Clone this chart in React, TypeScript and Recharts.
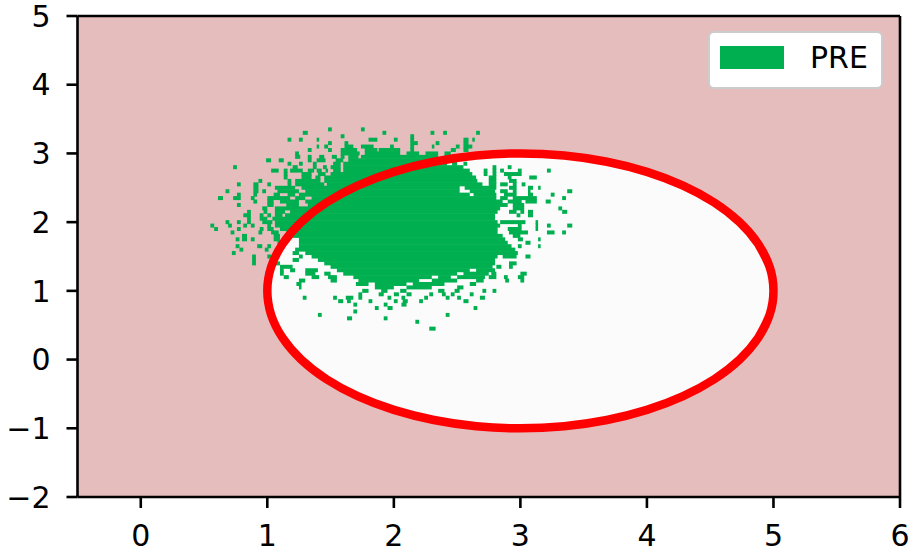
import { CartesianGrid, Legend, ReferenceLine, Scatter, ScatterChart, XAxis, YAxis } from "recharts";

const xTicks = [0, 1, 2, 3, 4, 5, 6];
const yTicks = [-2, -1, 0, 1, 2, 3, 4, 5];

// closed outline with a small overlap at x=5 so the join stays smooth
const ringX = [4.879, 4.97, 5, 4.97, 4.879, 4.732, 4.532, 4.286, 4, 3.684, 3.347, 3, 2.653, 2.316, 2, 1.714, 1.468, 1.268, 1.121, 1.03, 1, 1.03, 1.121, 1.268, 1.468, 1.714, 2, 2.316, 2.653, 3, 3.347, 3.684, 4, 4.286, 4.532, 4.732, 4.879, 4.97, 5, 4.97, 4.879];
const ringY = [0.316, 0.653, 1, 1.347, 1.684, 2, 2.286, 2.532, 2.732, 2.879, 2.97, 3, 2.97, 2.879, 2.732, 2.532, 2.286, 2, 1.684, 1.347, 1, 0.653, 0.316, 0, -0.286, -0.532, -0.732, -0.879, -0.97, -1, -0.97, -0.879, -0.732, -0.532, -0.286, 0, 0.316, 0.653, 1, 1.347, 1.684];

// PRE samples by row: y, then x start / x end pairs
const preRows: [number, number[]][] = [
  [3.35, [1.48, 1.51, 1.74, 1.77]],
  [3.3, [1.28, 1.32, 1.91, 1.94, 2.29, 2.32, 2.39, 2.42, 2.65, 2.68]],
  [3.25, [1.58, 1.61, 2.13, 2.16]],
  [3.2, [1.16, 1.19, 1.25, 1.28, 1.39, 1.41, 1.8, 1.87, 2.0, 2.03, 2.13, 2.16, 2.55, 2.59, 2.62, 2.64]],
  [3.15, [1.48, 1.51, 1.61, 1.64, 2.13, 2.19, 2.33, 2.36, 2.55, 2.59]],
  [3.1, [1.39, 1.41, 1.45, 1.48, 1.61, 1.68, 1.74, 1.84, 1.97, 2.0, 2.13, 2.16, 2.3, 2.32, 2.49, 2.52, 2.55, 2.62]],
  [3.05, [1.32, 1.35, 1.48, 1.51, 1.58, 1.71, 1.77, 1.87, 1.88, 2.05, 2.13, 2.16, 2.45, 2.49, 2.55, 2.59]],
  [3.0, [1.22, 1.25, 1.58, 1.73, 1.77, 2.05, 2.1, 2.2, 2.25, 2.35, 2.4, 2.45]],
  [2.95, [1.22, 1.26, 1.32, 1.35, 1.41, 1.45, 1.51, 1.55, 1.58, 1.61, 1.64, 1.72, 1.74, 2.35, 2.4, 2.45]],
  [2.9, [0.99, 1.03, 1.09, 1.13, 1.32, 1.35, 1.39, 1.46, 1.54, 1.6, 1.64, 2.38, 2.42, 2.46]],
  [2.85, [1.16, 1.19, 1.25, 1.28, 1.36, 1.39, 1.52, 1.58, 1.6, 2.42, 2.46, 2.5, 2.55, 2.58]],
  [2.8, [0.73, 0.76, 1.2, 1.24, 1.36, 1.39, 1.44, 1.47, 1.5, 1.58, 1.6, 2.55, 2.78, 2.81, 2.9, 2.93]],
  [2.75, [1.03, 1.09, 1.13, 1.16, 1.18, 1.28, 1.32, 1.37, 1.39, 1.43, 1.46, 1.48, 1.52, 1.58, 1.6, 2.6, 2.71, 2.74, 2.78, 2.81, 2.84, 2.87, 2.98, 3.01, 3.21, 3.24]],
  [2.7, [1.13, 1.16, 1.27, 1.35, 1.4, 1.46, 1.5, 2.62, 2.71, 2.74, 2.78, 2.81, 2.87, 3.01]],
  [2.65, [1.13, 1.16, 1.27, 1.35, 1.38, 1.42, 1.45, 2.65, 2.75, 2.81, 2.9, 2.93, 3.07, 3.13]],
  [2.6, [0.93, 0.96, 1.16, 1.19, 1.22, 1.42, 1.45, 2.66, 2.75, 2.81, 2.91, 2.97]],
  [2.55, [0.76, 0.79, 0.89, 0.93, 1.0, 1.03, 1.16, 1.19, 1.22, 1.45, 1.47, 2.7, 2.75, 2.81, 2.84, 2.9, 2.94, 2.97, 3.01, 3.04]],
  [2.5, [0.89, 0.93, 1.06, 1.22, 1.27, 2.52, 2.56, 2.81, 2.91, 2.97, 3.06, 3.1, 3.14, 3.16]],
  [2.45, [0.67, 0.7, 0.89, 0.93, 0.96, 0.99, 1.08, 1.25, 1.3, 2.52, 2.6, 2.8, 2.84, 2.9, 2.94, 2.97, 3.06, 3.08, 3.37, 3.41]],
  [2.4, [0.76, 0.79, 0.89, 0.92, 1.05, 1.1, 1.16, 1.22, 1.25, 2.6, 2.63, 2.81, 2.87, 2.97, 3.06, 3.1, 3.24, 3.27]],
  [2.35, [0.61, 0.65, 0.73, 0.79, 0.87, 0.9, 1.0, 1.18, 1.22, 1.3, 1.35, 2.81, 2.84, 2.9, 2.94, 3.13, 3.33, 3.36]],
  [2.3, [0.89, 0.92, 1.0, 1.05, 1.1, 1.25, 1.3, 2.86, 2.9, 3.01, 3.04, 3.13, 3.2, 3.24]],
  [2.25, [0.76, 0.79, 1.0, 1.05, 1.15, 1.25, 1.32, 2.9, 2.94, 3.03]],
  [2.2, [0.96, 1.0, 1.06, 2.84, 2.94, 3.03, 3.3, 3.33]],
  [2.15, [0.84, 0.87, 0.97, 1.0, 1.06, 1.14, 1.18, 2.82, 2.91, 2.97, 3.0, 3.03, 3.06, 3.1, 3.33, 3.37]],
  [2.1, [0.81, 0.87, 0.94, 0.97, 1.0, 1.03, 1.06, 1.12, 1.14, 2.8, 2.97, 3.0, 3.06, 3.1]],
  [2.05, [0.84, 0.87, 0.94, 1.0, 1.04, 2.8]],
  [2.0, [0.67, 0.7, 0.76, 0.79, 0.84, 0.87, 0.96, 1.04, 1.06, 2.82, 2.84, 3.04, 3.12, 3.14]],
  [1.95, [0.55, 0.58, 0.69, 0.72, 0.81, 0.84, 0.87, 0.9, 1.0, 1.03, 1.06, 2.84, 2.98, 3.01, 3.12, 3.14, 3.21, 3.24, 3.37, 3.41]],
  [1.9, [0.58, 0.61, 0.76, 0.79, 0.94, 0.97, 1.0, 1.05, 1.1, 2.82, 2.9, 3.01, 3.12, 3.14]],
  [1.85, [0.71, 0.74, 0.93, 0.96, 1.03, 1.09, 1.15, 2.82, 2.91, 3.06, 3.21, 3.27, 3.33, 3.36]],
  [1.8, [0.8, 0.84, 1.05, 1.1, 1.2, 2.86, 2.94, 3.0]],
  [1.75, [0.75, 0.78, 0.8, 0.84, 0.87, 0.9, 1.05, 1.1, 1.25, 2.88, 2.98, 3.02, 3.14, 3.16]],
  [1.7, [1.08, 1.15, 1.25, 2.9, 3.04, 3.08]],
  [1.65, [0.75, 0.78, 0.92, 0.96, 1.0, 1.03, 1.25, 2.93, 2.98, 3.01, 3.14, 3.16]],
  [1.6, [0.78, 0.81, 0.98, 1.01, 1.22, 2.96]],
  [1.55, [0.72, 0.75, 1.2, 1.25, 1.3, 2.98]],
  [1.5, [0.88, 0.91, 1.0, 1.03, 1.25, 1.28, 1.35, 2.82, 2.86, 2.97, 3.04, 3.08]],
  [1.45, [0.88, 0.91, 1.2, 1.25, 1.4, 2.8]],
  [1.4, [0.88, 0.91, 1.05, 1.1, 1.45, 2.8, 2.91, 2.97]],
  [1.35, [1.1, 1.2, 1.5, 2.78, 2.81, 2.85, 2.91, 2.94]],
  [1.3, [1.1, 1.13, 1.18, 1.22, 1.3, 1.4, 1.55, 2.6, 2.65, 2.8]],
  [1.25, [1.1, 1.13, 1.3, 1.38, 1.45, 1.5, 1.6, 2.5, 2.55, 2.75, 2.77, 2.81, 3.0, 3.05]],
  [1.2, [1.13, 1.17, 1.35, 1.41, 1.48, 1.55, 1.68, 2.3, 2.35, 2.45, 2.5, 2.72, 2.75, 2.81, 2.87, 2.9, 2.98, 3.03]],
  [1.15, [1.25, 1.3, 1.5, 1.55, 1.72, 2.2, 2.3, 2.5, 2.65, 2.71, 2.88, 2.91, 3.0, 3.03]],
  [1.1, [1.23, 1.27, 1.7, 1.8, 1.85, 2.1, 2.15, 2.4, 2.6, 2.65]],
  [1.05, [1.25, 1.27, 1.85, 2.0, 2.1, 2.3, 2.5, 2.55]],
  [1.0, [1.75, 1.8, 1.9, 1.95, 2.05, 2.1, 2.35, 2.4, 2.48, 2.52, 2.7, 2.73, 2.78, 2.81]],
  [0.95, [1.72, 1.75, 1.88, 1.92, 2.0, 2.04, 2.1, 2.14, 2.28, 2.31, 2.38, 2.41, 2.45, 2.48, 2.6, 2.63]],
  [0.9, [1.28, 1.31, 1.52, 1.55, 1.62, 1.68, 1.72, 1.75, 1.95, 1.98, 2.06, 2.09, 2.24, 2.27, 2.41, 2.44, 2.5, 2.53, 2.68, 2.72]],
  [0.85, [1.56, 1.6, 1.63, 1.66, 1.8, 1.83, 2.0, 2.03, 2.07, 2.11, 2.2, 2.23, 2.55, 2.59]],
  [0.8, [1.68, 1.71, 1.92, 1.95, 2.06, 2.1]],
  [0.75, [1.85, 1.88, 1.95, 1.99, 2.63, 2.66]],
  [0.7, [1.68, 1.71]],
  [0.65, [1.4, 1.43, 2.41, 2.44]],
  [0.6, [1.63, 1.67, 1.92, 1.95]],
  [0.55, [2.17, 2.2]],
  [0.45, [2.28, 2.33]],
];

const ringData = ringX.map((x, i) => ({ x, y: ringY[i] }));
const preData = preRows.flatMap(([y, runs]) =>
  runs.flatMap((x, i) => (i % 2 === 0 ? [{ x, y, x2: runs[i + 1] }] : []))
);

const pxPerX = 822.5 / 6.5;
const rowHeight = 4;

const font = "'DejaVu Sans', sans-serif";
const tick = { fill: "#000", fontSize: 30, fontFamily: font };
const axisLine = { stroke: "#000", strokeWidth: 2.6 };
const tickLine = { stroke: "#000", strokeWidth: 2.6 };

function PreCell(props: any) {
  const { cx, cy, payload } = props;
  return (
    <rect
      x={cx}
      y={cy - rowHeight / 2}
      width={(payload.x2 - payload.x) * pxPerX}
      height={rowHeight}
      fill="#00b050"
    />
  );
}

function PreLegend() {
  return (
    <div
      style={{
        boxSizing: "border-box",
        width: 175,
        height: 58,
        background: "#fff",
        border: "2.5px solid #cccccc",
        borderRadius: 6,
        position: "relative",
        fontFamily: font,
        fontSize: 30,
        color: "#000",
      }}
    >
      <div style={{ position: "absolute", left: 10, top: 13, width: 64, height: 23, background: "#00b050" }} />
      <span style={{ position: "absolute", left: 100, top: 7, lineHeight: "36px" }}>PRE</span>
    </div>
  );
}

export default function App() {
  return (
    <div style={{ position: "absolute", left: 0, top: 0, width: 914, height: 559 }}>
      <ScatterChart width={914} height={559} margin={{ top: 16, right: 14, bottom: 0, left: 0 }}>
        <CartesianGrid horizontal={false} vertical={false} fill="#e5bdbd" />
        <XAxis
          type="number"
          dataKey="x"
          domain={[-0.5, 6]}
          ticks={xTicks}
          allowDataOverflow
          tick={tick}
          tickLine={tickLine}
          axisLine={axisLine}
          tickSize={11}
          tickMargin={17}
          height={62}
          interval={0}
          tickFormatter={(v: number) => String(v)}
        />
        <YAxis
          type="number"
          dataKey="y"
          domain={[-2, 5]}
          ticks={yTicks}
          allowDataOverflow
          tick={tick}
          tickLine={tickLine}
          axisLine={axisLine}
          tickSize={11}
          tickMargin={16}
          width={77.5}
          interval={0}
          tickFormatter={(v: number) => String(v).replace("-", "\u2212")}
        />
        <Scatter
          data={ringData}
          line={{ stroke: "none", fill: "#fbfbfb" }}
          lineJointType="natural"
          shape={() => <g />}
          legendType="none"
          isAnimationActive={false}
        />
        <Scatter name="PRE" data={preData} shape={PreCell} isAnimationActive={false} />
        <Scatter
          data={ringData}
          line={{ stroke: "#ff0000", strokeWidth: 8.5, fill: "none" }}
          lineJointType="natural"
          shape={() => <g />}
          legendType="none"
          isAnimationActive={false}
        />
        <ReferenceLine y={5} stroke="#000" strokeWidth={2.6} />
        <ReferenceLine x={6} stroke="#000" strokeWidth={2.6} />
        <Legend
          layout="horizontal"
          verticalAlign="middle"
          align="center"
          content={() => <PreLegend />}
          wrapperStyle={{ left: 708, top: 31, width: 175, height: 58, bottom: "auto" }}
        />
      </ScatterChart>
    </div>
  );
}
